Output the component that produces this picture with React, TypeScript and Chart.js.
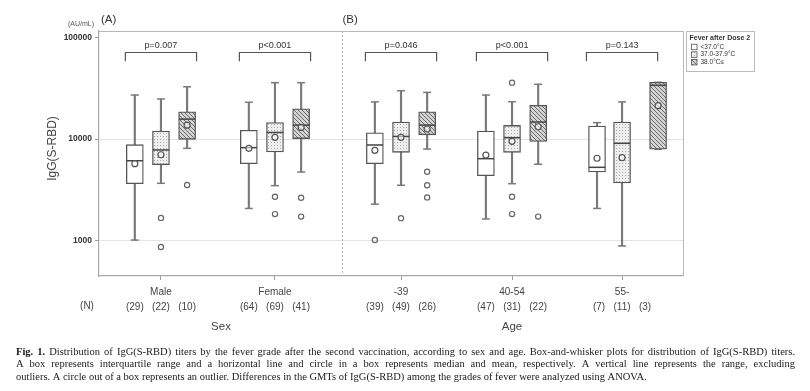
import React, { useEffect, useRef } from "react";
import { Chart, registerables } from "chart.js";

Chart.register(...registerables);

// ---------------- data ----------------
const groups = ["Male", "Female", "-39", "40-54", "55-"];
const feverGrades = ["<37.0°C", "37.0-37.9°C", "38.0°C≤"];
const groupN = [
  [29, 22, 10],
  [64, 69, 41],
  [39, 49, 26],
  [47, 31, 22],
  [7, 11, 3],
];
const pValues = ["p=0.007", "p<0.001", "p=0.046", "p<0.001", "p=0.143"];

// [fever grade][group]
const whiskerLow = [
  [1010, 2070, 2280, 1630, 2070],
  [3660, 3470, 3500, 3630, 884],
  [8090, 4730, 7960, 5640, 7920],
];
const quartile1 = [
  [3630, 5710, 5710, 4350, 4730],
  [5580, 7450, 7390, 7390, 3690],
  [9930, 10100, 11000, 9480, 7920],
];
const medians = [
  [6110, 8220, 8730, 6400, 5260],
  [7800, 11600, 10600, 10300, 9070],
  [15700, 13700, 13700, 14700, 33800],
];
const quartile3 = [
  [8790, 12200, 11500, 12000, 13400],
  [12000, 14500, 14700, 13600, 14700],
  [18500, 19800, 18500, 21500, 36200],
];
const whiskerHigh = [
  [27100, 23000, 23200, 27100, 14500],
  [24800, 35900, 29900, 23300, 23200],
  [32700, 35900, 28800, 34600, 36200],
];
const means = [
  [5710, 8100, 7730, 6950, 6460],
  [7000, 10400, 10400, 9480, 6550],
  [13700, 13000, 12550, 13200, 21300],
];
const outliers = [
  [[], [], [1010], [], []],
  [[1670, 863], [2700, 1820], [1660], [35900, 2700, 1820], []],
  [[3520], [2640, 1720], [4760, 3500, 2660], [1720], []],
];

const yTicks = [1000, 10000, 100000];
const axisTitles = ["Sex", "Age"];
const panelTitles = ["(A)", "(B)"];
const yTitle = "IgG(S-RBD)";
const yUnit = "(AU/mL)";
const nLabel = "(N)";
const legendTitle = "Fever after Dose 2";
const captionBold = "Fig. 1.";
const captionLines = [
  "Distribution of IgG(S-RBD) titers by the fever grade after the second vaccination, according to sex and age. Box-and-whisker plots for distribution of IgG(S-RBD) titers.",
  "A box represents interquartile range and a horizontal line and circle in a box represents median and mean, respectively. A vertical line represents the range, excluding",
  "outliers. A circle out of a box represents an outlier. Differences in the GMTs of IgG(S-RBD) among the grades of fever were analyzed using ANOVA.",
];

// ---------------- layout ----------------
const X_MIN = 0;
const X_MAX = 5.25;
const Y_MIN = 447;
const Y_MAX = 115900;
const groupX = [0.557, 1.582, 2.715, 3.713, 4.702];
const boxOffsets = [
  [-0.235, 0, 0.235],
  [-0.235, 0, 0.235],
  [-0.235, 0, 0.235],
  [-0.235, 0, 0.235],
  [-0.225, 0, 0.324],
];
const panelDividerX = 2.185;
const bracketHalf = 0.32;
const bracketLevel = 72000;
const bracketFootLevel = 58500;
const pTextLevel = 83000;

const boxX = (g: number, f: number) => groupX[g] + boxOffsets[g][f];

function makePatterns() {
  const dots = document.createElement("canvas");
  dots.width = 3;
  dots.height = 3;
  const d = dots.getContext("2d")!;
  d.fillStyle = "#efefef";
  d.fillRect(0, 0, 3, 3);
  d.fillStyle = "#a8a8a8";
  d.fillRect(1, 1, 1, 1);
  const hatch = document.createElement("canvas");
  hatch.width = 4;
  hatch.height = 4;
  const h = hatch.getContext("2d")!;
  h.fillStyle = "#d4d4d4";
  h.fillRect(0, 0, 4, 4);
  h.fillStyle = "#6a6a6a";
  for (let i = 0; i < 4; i++) h.fillRect(i, i, 1, 1);
  return ["#ffffff", d.createPattern(dots, "repeat")!, h.createPattern(hatch, "repeat")!];
}

export default function App() {
  const ref = useRef<HTMLCanvasElement>(null);

  useEffect(() => {
    const canvas = ref.current!;
    const fills: any[] = makePatterns();
    const datasets: any[] = [];

    for (let f = 0; f < 3; f++) {
      datasets.push({
        type: "bar",
        data: groups.flatMap((_, g) => [
          { x: boxX(g, f), y: [quartile3[f][g], whiskerHigh[f][g]] },
          { x: boxX(g, f), y: [whiskerLow[f][g], quartile1[f][g]] },
        ]),
        barThickness: 1.5,
        backgroundColor: "#7a7a7a",
        borderWidth: 0,
        grouped: false,
        order: 6,
      });
      datasets.push({
        type: "scatter",
        data: groups.flatMap((_, g) => [
          { x: boxX(g, f), y: whiskerHigh[f][g] },
          { x: boxX(g, f), y: whiskerLow[f][g] },
        ]),
        pointStyle: "line",
        pointRadius: 4,
        borderColor: "#7a7a7a",
        borderWidth: 1.5,
        order: 5,
      });
      datasets.push({
        type: "bar",
        label: feverGrades[f],
        data: groups.map((_, g) => ({ x: boxX(g, f), y: [quartile1[f][g], quartile3[f][g]] })),
        barThickness: 17,
        backgroundColor: fills[f],
        borderColor: "#555",
        borderWidth: 1.3,
        borderSkipped: false,
        grouped: false,
        order: 4,
      });
      datasets.push({
        type: "scatter",
        data: groups.map((_, g) => ({ x: boxX(g, f), y: medians[f][g] })),
        pointStyle: "line",
        pointRadius: 8.2,
        borderColor: "#444",
        borderWidth: 1.5,
        order: 3,
      });
      datasets.push({
        type: "scatter",
        data: groups.map((_, g) => ({ x: boxX(g, f), y: means[f][g] })),
        pointStyle: "circle",
        pointRadius: 3,
        borderColor: "#555",
        backgroundColor: "rgba(255,255,255,0.55)",
        borderWidth: 1.2,
        order: 2,
      });
      datasets.push({
        type: "scatter",
        data: groups.flatMap((_, g) => outliers[f][g].map((v) => ({ x: boxX(g, f), y: v }))),
        pointStyle: "circle",
        pointRadius: 2.6,
        borderColor: "#666",
        backgroundColor: "rgba(255,255,255,0)",
        borderWidth: 1.2,
        order: 2,
      });
    }

    const decor = {
      id: "decor",
      afterDraw(chart: any) {
        const ctx = chart.ctx as CanvasRenderingContext2D;
        const { left, right, top, bottom } = chart.chartArea;
        const xs = chart.scales.x;
        const ys = chart.scales.y;
        ctx.save();
        ctx.strokeStyle = "#b8b8b8";
        ctx.lineWidth = 1;
        ctx.beginPath();
        ctx.moveTo(left, top + 0.5);
        ctx.lineTo(right + 0.5, top + 0.5);
        ctx.lineTo(right + 0.5, bottom);
        ctx.stroke();
        const dx = Math.round(xs.getPixelForValue(panelDividerX)) + 0.5;
        ctx.setLineDash([2, 2]);
        ctx.beginPath();
        ctx.moveTo(dx, top);
        ctx.lineTo(dx, bottom);
        ctx.stroke();
        ctx.setLineDash([]);

        ctx.textBaseline = "middle";
        ctx.fillStyle = "#444";
        ctx.font = '12px "Liberation Sans"';
        ctx.save();
        ctx.translate(left - 46, (top + bottom) / 2 - 5);
        ctx.rotate(-Math.PI / 2);
        ctx.textAlign = "center";
        ctx.fillText(yTitle, 0, 0);
        ctx.restore();
        ctx.font = '7px "Liberation Sans"';
        ctx.fillStyle = "#555";
        ctx.textAlign = "right";
        ctx.fillText(yUnit, left - 5, top - 7);
        ctx.font = '11.5px "Liberation Sans"';
        ctx.fillStyle = "#333";
        ctx.textAlign = "left";
        ctx.fillText(panelTitles[0], left + 2, top - 11);
        ctx.fillText(panelTitles[1], dx, top - 11);

        const by = Math.round(ys.getPixelForValue(bracketLevel)) + 0.5;
        const bf = ys.getPixelForValue(bracketFootLevel);
        const ty = ys.getPixelForValue(pTextLevel);
        ctx.strokeStyle = "#555";
        ctx.lineWidth = 1.2;
        ctx.font = '9px "Liberation Sans"';
        ctx.fillStyle = "#333";
        ctx.textAlign = "center";
        groupX.forEach((gx, i) => {
          const x0 = xs.getPixelForValue(gx - bracketHalf);
          const x1 = xs.getPixelForValue(gx + bracketHalf);
          ctx.beginPath();
          ctx.moveTo(x0, bf);
          ctx.lineTo(x0, by);
          ctx.lineTo(x1, by);
          ctx.lineTo(x1, bf);
          ctx.stroke();
          ctx.fillText(pValues[i], xs.getPixelForValue(gx), ty);
        });

        ctx.fillStyle = "#444";
        ctx.font = '10px "Liberation Sans"';
        ctx.fillText(nLabel, left - 12, bottom + 30.7);
        ctx.font = '11.5px "Liberation Sans"';
        ctx.fillText(axisTitles[0], (xs.getPixelForValue(groupX[0]) + xs.getPixelForValue(groupX[1])) / 2 + 3, bottom + 51);
        ctx.fillText(axisTitles[1], xs.getPixelForValue(groupX[3]), bottom + 51);

        const lx = right + 3.5;
        const ly = top + 0.5;
        ctx.fillStyle = "#fff";
        ctx.strokeStyle = "#bbb";
        ctx.lineWidth = 1;
        ctx.fillRect(lx, ly, 68, 40);
        ctx.strokeRect(lx, ly, 68, 40);
        ctx.textAlign = "left";
        ctx.fillStyle = "#333";
        ctx.font = 'bold 7px "Liberation Sans"';
        ctx.fillText(legendTitle, lx + 3, ly + 6.5);
        ctx.font = '6.5px "Liberation Sans"';
        feverGrades.forEach((lab, i) => {
          const cy = ly + 15.5 + i * 7.6;
          ctx.fillStyle = fills[i];
          ctx.fillRect(lx + 5, cy - 2.75, 5.5, 5.5);
          ctx.strokeStyle = "#555";
          ctx.lineWidth = 0.8;
          ctx.strokeRect(lx + 5, cy - 2.75, 5.5, 5.5);
          ctx.fillStyle = "#333";
          ctx.fillText(lab, lx + 14, cy);
        });

        const cx0 = 16;
        const cx1 = 795;
        const fontR = '10.5px "Liberation Serif"';
        const fontB = 'bold 10.5px "Liberation Serif"';
        ctx.fillStyle = "#1a1a1a";
        captionLines.forEach((line, li) => {
          const words: { w: string; b: boolean }[] = [];
          if (li === 0) captionBold.split(" ").forEach((w) => words.push({ w, b: true }));
          line.split(" ").filter(Boolean).forEach((w) => words.push({ w, b: false }));
          const widths = words.map((o) => {
            ctx.font = o.b ? fontB : fontR;
            return ctx.measureText(o.w).width;
          });
          ctx.font = fontR;
          const sp = ctx.measureText(" ").width;
          const total = widths.reduce((a, b) => a + b, 0);
          const justify = li < captionLines.length - 1;
          const gap = justify ? (cx1 - cx0 - total) / (words.length - 1) : sp;
          let x = cx0;
          const y = 352 + li * 12.5;
          words.forEach((o, i) => {
            ctx.font = o.b ? fontB : fontR;
            ctx.fillText(o.w, x, y);
            x += widths[i] + gap;
          });
        });
        ctx.restore();
      },
    };

    const chart = new Chart(canvas, {
      type: "bar",
      data: { datasets },
      options: {
        responsive: false,
        animation: false,
        events: [],
        layout: { padding: { left: 0, top: 31, right: 127, bottom: 0 } },
        plugins: { legend: { display: false }, tooltip: { enabled: false } },
        scales: {
          x: {
            type: "linear",
            min: X_MIN,
            max: X_MAX,
            offset: false,
            afterBuildTicks: (s: any) => {
              s.ticks = groupX.map((v) => ({ value: v }));
            },
            afterFit: (s: any) => {
              s.height = 115;
            },
            ticks: {
              autoSkip: false,
              maxRotation: 0,
              minRotation: 0,
              padding: 5,
              color: "#444",
              font: { family: "Liberation Sans", size: 10, lineHeight: 1.45 },
              callback: (_v: any, i: number) => [groups[i], groupN[i].map((n) => `(${n})`).join("   ")],
            },
            grid: { drawOnChartArea: false, tickLength: 4, tickColor: "#999", offset: false },
            border: { color: "#aaa", width: 1.2 },
          },
          y: {
            type: "logarithmic",
            min: Y_MIN,
            max: Y_MAX,
            afterBuildTicks: (s: any) => {
              s.ticks = yTicks.map((v) => ({ value: v }));
            },
            afterFit: (s: any) => {
              s.width = 99;
            },
            ticks: {
              autoSkip: false,
              padding: 3,
              color: "#333",
              font: { family: "Liberation Sans", size: 8.5, weight: "bold" },
              callback: (v: any) => String(v),
            },
            grid: {
              color: (c: any) => (c.tick && c.tick.value === 100000 ? "rgba(0,0,0,0)" : "#e3e3e3"),
              tickColor: "#999",
              tickLength: 4,
            },
            border: { color: "#aaa", width: 1.2 },
          },
        },
      },
      plugins: [decor],
    } as any);

    return () => chart.destroy();
  }, []);

  return (
    <div style={{ position: "fixed", left: 0, top: 0, width: 810, height: 391, background: "#fff" }}>
      <canvas ref={ref} width={810} height={391} style={{ display: "block", width: 810, height: 391 }} />
    </div>
  );
}
